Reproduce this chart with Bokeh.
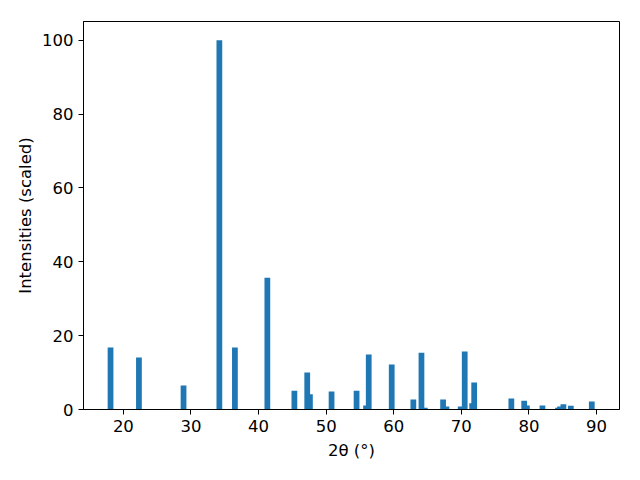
from bokeh.plotting import figure
from bokeh.models import Range1d, FixedTicker, ColumnDataSource
from bokeh.embed import file_html
from bokeh.resources import INLINE

two_theta = [18.1, 22.3, 28.9, 34.2, 36.5, 41.3, 45.3, 47.2, 47.6, 50.8, 54.5, 55.9, 56.3,
             59.7, 62.9, 64.1, 64.6, 67.3, 67.8, 69.9, 70.5, 71.6, 71.9, 77.4, 79.3, 79.7,
             82.0, 84.3, 84.6, 85.1, 86.2, 89.3]
intensity = [16.8, 14.1, 6.5, 100.0, 16.8, 35.7, 5.1, 10.0, 4.1, 4.9, 5.1, 1.1, 14.9,
             12.2, 2.7, 15.4, 0.5, 2.7, 0.8, 0.8, 15.7, 1.7, 7.3, 3.0, 2.4, 1.1,
             1.1, 0.5, 0.8, 1.4, 1.0, 2.2]
x_ticks = [20, 30, 40, 50, 60, 70, 80, 90]
y_ticks = [0, 20, 40, 60, 80, 100]

src = ColumnDataSource(dict(x=two_theta, top=intensity))

p = figure(width=640, height=480, output_backend="svg", toolbar_location=None,
           x_range=Range1d(14.1, 93.4), y_range=Range1d(0, 105.1),
           min_border_left=83, min_border_right=21, min_border_top=21, min_border_bottom=71)
p.vbar(x="x", top="top", bottom=0, width=0.85, source=src, color="#1f77b4", line_width=0)

p.grid.visible = False
p.outline_line_color = "black"
p.outline_line_width = 1
p.background_fill_color = "white"
p.border_fill_color = "white"

for ax in (p.xaxis[0], p.yaxis[0]):
    ax.major_label_text_font = "DejaVu Sans"
    ax.major_label_text_font_size = "16.5px"
    ax.major_label_text_color = "black"
    ax.axis_label_text_font = "DejaVu Sans"
    ax.axis_label_text_font_size = "16.5px"
    ax.axis_label_text_font_style = "normal"
    ax.axis_label_text_color = "black"
    ax.minor_tick_line_color = None
    ax.major_tick_out = 5
    ax.major_tick_in = 0
    ax.axis_line_color = "black"
    ax.major_tick_line_color = "black"

p.xaxis.ticker = FixedTicker(ticks=x_ticks)
p.yaxis.ticker = FixedTicker(ticks=y_ticks)
p.xaxis.axis_label = "2θ (°)"
p.yaxis.axis_label = "Intensities (scaled)"
p.xaxis.axis_label_standoff = 6
p.yaxis.axis_label_standoff = 4

open("out.html", "w").write(file_html(p, INLINE))
